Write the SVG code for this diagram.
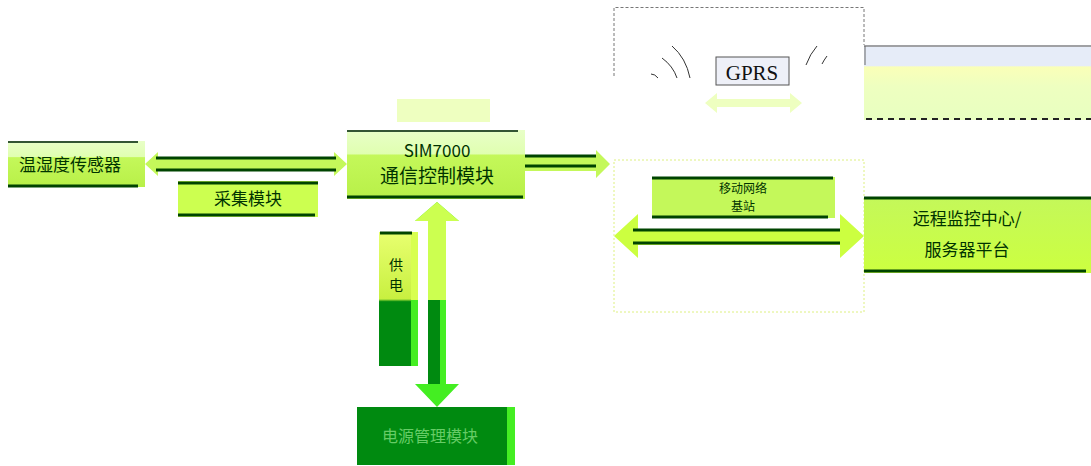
<svg xmlns="http://www.w3.org/2000/svg" width="1091" height="466" viewBox="0 0 1091 466">
<style>
text{font-family:"Noto Sans CJK SC","Liberation Sans",sans-serif;fill:#003300;text-anchor:middle}
.edge{stroke:#004400;stroke-width:3}
.lbl{font-size:17px}
</style>
<defs>
<linearGradient id="lime" x1="0" y1="0" x2="0" y2="1">
<stop offset="0" stop-color="#e8ffc8"/><stop offset="0.35" stop-color="#e0ffb0"/><stop offset="0.36" stop-color="#c4f85a"/><stop offset="1" stop-color="#b8f048"/>
</linearGradient>
<linearGradient id="lime2" x1="0" y1="0" x2="0" y2="1">
<stop offset="0" stop-color="#c4f85a"/><stop offset="1" stop-color="#ccff40"/>
</linearGradient>
<linearGradient id="vert" x1="0" y1="0" x2="0" y2="1">
<stop offset="0" stop-color="#e8ff70"/><stop offset="0.5" stop-color="#c8f040"/><stop offset="0.52" stop-color="#008a10"/><stop offset="1" stop-color="#008a10"/>
</linearGradient>
<linearGradient id="tr" x1="0" y1="0" x2="0" y2="1">
<stop offset="0" stop-color="#e6ecf8"/><stop offset="0.28" stop-color="#e6ecf8"/><stop offset="0.29" stop-color="#faffb8"/><stop offset="0.55" stop-color="#eeffc0"/><stop offset="1" stop-color="#e8ffc0"/>
</linearGradient>
</defs>

<g id="connectors">
<polygon points="145,164 158,152 158,158 334,158 334,152 347,164 334,176 334,170 158,170 158,176" fill="#c4f85a"/>
<line x1="156" y1="158" x2="336" y2="158" class="edge"/>
<line x1="156" y1="170" x2="336" y2="170" class="edge"/>
<polygon points="517,157 596,157 596,150 610,164 596,178 596,171 517,171" fill="#c4f85a"/>
<line x1="517" y1="156" x2="596" y2="156" class="edge"/>
<line x1="517" y1="166" x2="596" y2="166" class="edge"/>
<polygon points="437,202 459,221 446,221 446,384 459,384 437,407 415,384 428,384 428,221 415,221" fill="#44ee22"/>
<polygon points="437,202 459,221 446,221 446,300 428,300 428,221 415,221" fill="#ccff50"/>
<rect x="428" y="300" width="12" height="84" fill="#008a10"/>
<polygon points="705,103 717,93 717,99 790,99 790,93 802,103 790,113 790,107 717,107 717,113" fill="#eeffc0"/>
<polygon points="614,236 638,214 638,229 840,229 840,214 864,236 840,258 840,245 638,245 638,258" fill="#ccff40"/>
<line x1="633" y1="230" x2="840" y2="230" class="edge"/>
<line x1="633" y1="243" x2="840" y2="243" class="edge"/>
</g>

<g id="n_left">
<rect x="8" y="141" width="137" height="46" fill="url(#lime)"/>
<line x1="8" y1="142" x2="138" y2="142" stroke="#335533" stroke-width="2"/>
<line x1="8" y1="186" x2="138" y2="186" class="edge"/>
<text x="70" y="171" class="lbl">温湿度传感器</text>
</g>

<g id="n_label">
<rect x="178" y="181" width="140" height="36" fill="#ccff50"/>
<line x1="178" y1="183" x2="318" y2="183" class="edge"/>
<line x1="178" y1="215" x2="315" y2="215" class="edge"/>
<text x="248" y="205" class="lbl">采集模块</text>
</g>

<g id="n_topsmall">
<rect x="397" y="99" width="93" height="23" fill="#eeffc0"/>
</g>

<g id="n_center">
<rect x="347" y="130" width="178" height="69" fill="url(#lime)"/>
<line x1="347" y1="131" x2="518" y2="131" stroke="#335533" stroke-width="2"/>
<line x1="347" y1="197" x2="523" y2="197" class="edge"/>
<text x="437" y="157" class="lbl">SIM7000</text>
<text x="437" y="183" style="font-size:19px">通信控制模块</text>
</g>

<g id="n_vert">
<rect x="379" y="232" width="39" height="134" fill="url(#vert)"/>
<rect x="411" y="232" width="7" height="134" fill="#d8ff50"/>
<rect x="411" y="300" width="7" height="66" fill="#44ee22"/>
<line x1="380" y1="233" x2="412" y2="233" class="edge"/>
<text x="396" y="270" style="font-size:14px">供</text>
<text x="396" y="290" style="font-size:14px">电</text>
</g>

<g id="n_bottom">
<rect x="357" y="407" width="158" height="58" fill="#008a10"/>
<rect x="507" y="407" width="8" height="58" fill="#44ee22"/>
<text x="430" y="442" style="font-size:16px;fill:#66cc66">电源管理模块</text>
</g>

<g id="n_gprs">
<path d="M614,76 V7.5 H864 V45" fill="none" stroke="#777" stroke-width="1" stroke-dasharray="3,2"/>
<rect x="716" y="57" width="73" height="28" fill="#eef0f8" stroke="#555" stroke-width="1"/>
<text x="752" y="80" style="font-family:'Liberation Serif',serif;font-size:21px;fill:#111">GPRS</text>
<path d="M672,46 Q686,58 690,78" fill="none" stroke="#333" stroke-width="1"/>
<path d="M662,58 Q673,66 677,78" fill="none" stroke="#333" stroke-width="1"/>
<path d="M651,74 Q655,74 658,78" fill="none" stroke="#333" stroke-width="1"/>
<path d="M817,46 Q810,54 806,65" fill="none" stroke="#333" stroke-width="1"/>
<path d="M827,56 Q824,60 822,64" fill="none" stroke="#333" stroke-width="1"/>
</g>

<g id="n_topright">
<rect x="864" y="45" width="227" height="75" fill="url(#tr)"/>
<line x1="864" y1="46" x2="1091" y2="46" stroke="#888" stroke-width="1.5"/>
<line x1="865" y1="46" x2="865" y2="65" stroke="#666" stroke-width="1"/>
<line x1="866" y1="119" x2="1091" y2="119" stroke="#222" stroke-width="2" stroke-dasharray="6,5"/>
</g>

<g id="n_net">
<rect x="614" y="160" width="250" height="152" fill="none" stroke="#ddf080" stroke-width="1" stroke-dasharray="2,2"/>
<rect x="652" y="177" width="183" height="41" fill="#c4f85a"/>
<line x1="652" y1="178" x2="833" y2="178" class="edge"/>
<line x1="652" y1="217" x2="828" y2="217" class="edge"/>
<text x="743" y="193" style="font-size:12px">移动网络</text>
<text x="743" y="211" style="font-size:12px">基站</text>
</g>

<g id="n_right">
<rect x="864" y="197" width="227" height="76" fill="url(#lime2)"/>
<line x1="864" y1="198" x2="1091" y2="198" class="edge"/>
<line x1="864" y1="271" x2="1086" y2="271" class="edge"/>
<text x="967" y="225" style="font-size:17px">远程监控中心/</text>
<text x="967" y="256" style="font-size:17px">服务器平台</text>
</g>
</svg>
